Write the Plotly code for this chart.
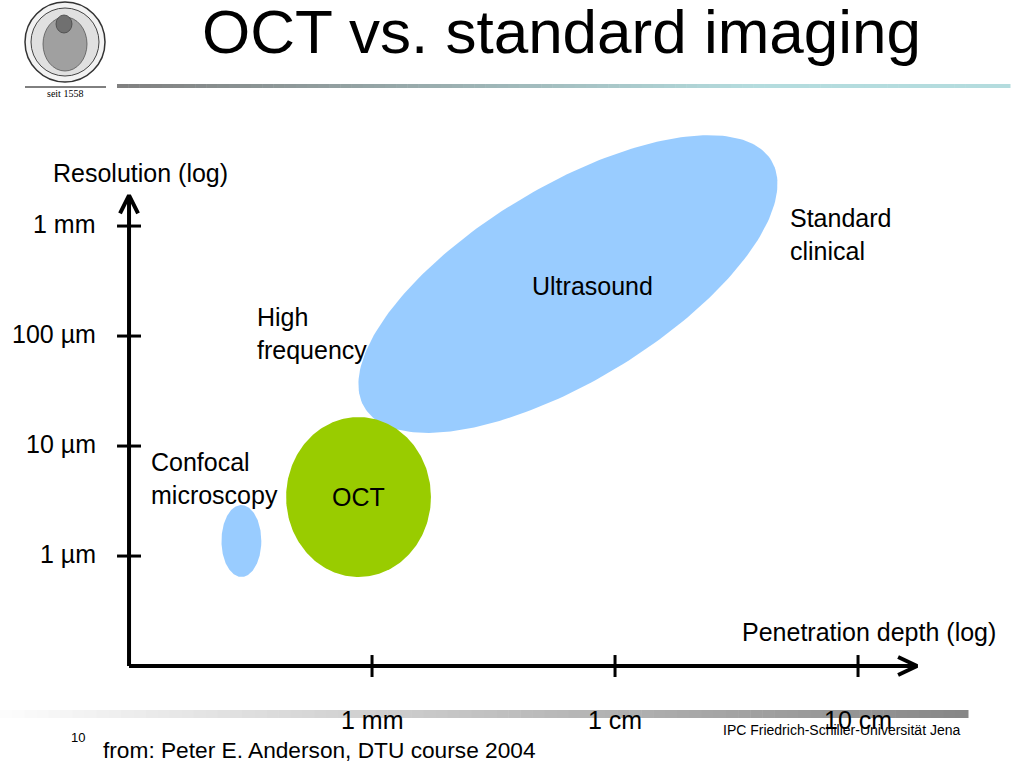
import numpy as np
import plotly.graph_objects as go

W, H = 1024, 768
FONT = "Liberation Sans"

# ---------------- data ----------------
x_tick_vals_mm = [1, 10, 100]
x_tick_text = ["1 mm", "1 cm", "10 cm"]
y_tick_vals_um = [1, 10, 100, 1000]
y_tick_text = ["1 µm", "10 µm", "100 µm", "1 mm"]

regions = ["Confocal microscopy", "Ultrasound", "OCT"]
region_depth_mm = [0.29, 6.4, 0.88]      # centre, penetration depth
region_res_um = [1.37, 297, 3.44]        # centre, resolution
# semi-axis vectors in decades: (log depth, log resolution)
region_axis1 = [(0.082, 0.0), (0.837, 1.124), (0.298, 0.0)]
region_axis2 = [(0.0, 0.327), (0.207, -0.754), (0.0, 0.727)]
region_colors = ["#99CCFF", "#99CCFF", "#99CC00"]

axis_origin_mm = 0.1
axis_origin_um = 0.1
axis_end_mm = 175
axis_end_um = 1900

# ---------------- scale ----------------
x_range = [-1.531, 2.683]   # log10(mm)
y_range = [-1.927, 5.055]   # log10(um)
dpx_x = (x_range[1] - x_range[0]) / W
dpx_y = (y_range[1] - y_range[0]) / H


def px(xp):
    return xp / W


def py(yp):
    return 1 - yp / H


fig = go.Figure()

# regions (ellipses in log space)
t = np.linspace(0, 2 * np.pi, 241)
for name, cx, cy, a1, a2, col in zip(regions, region_depth_mm, region_res_um,
                                     region_axis1, region_axis2, region_colors):
    lx = np.log10(cx) + a1[0] * np.cos(t) + a2[0] * np.sin(t)
    ly = np.log10(cy) + a1[1] * np.cos(t) + a2[1] * np.sin(t)
    fig.add_trace(go.Scatter(x=10 ** lx, y=10 ** ly, mode="lines", fill="toself",
                             fillcolor=col, line=dict(width=0, color=col),
                             name=name, hoverinfo="name", showlegend=False))

axis_style = dict(color="black", width=4)
# axes lines
fig.add_trace(go.Scatter(x=[axis_origin_mm, axis_end_mm], y=[axis_origin_um, axis_origin_um],
                         mode="lines", line=axis_style, hoverinfo="skip", showlegend=False))
fig.add_trace(go.Scatter(x=[axis_origin_mm, axis_origin_mm], y=[axis_origin_um, axis_end_um],
                         mode="lines", line=axis_style, hoverinfo="skip", showlegend=False))

# arrow heads (chevrons)
ex, ey = np.log10(axis_end_mm), np.log10(axis_origin_um)
fig.add_trace(go.Scatter(
    x=10 ** np.array([ex - 19 * dpx_x, ex, ex - 19 * dpx_x]),
    y=10 ** np.array([ey + 9 * dpx_y, ey, ey - 9 * dpx_y]),
    mode="lines", line=dict(color="black", width=4), hoverinfo="skip", showlegend=False))
ox, oy = np.log10(axis_origin_mm), np.log10(axis_end_um)
fig.add_trace(go.Scatter(
    x=10 ** np.array([ox - 9 * dpx_x, ox, ox + 9 * dpx_x]),
    y=10 ** np.array([oy - 18 * dpx_y, oy, oy - 18 * dpx_y]),
    mode="lines", line=dict(color="black", width=4), hoverinfo="skip", showlegend=False))

# ticks
for v in x_tick_vals_mm:
    fig.add_trace(go.Scatter(
        x=[v, v], y=10 ** np.array([ey - 11 * dpx_y, ey + 11 * dpx_y]),
        mode="lines", line=dict(color="black", width=3), hoverinfo="skip", showlegend=False))
for v in y_tick_vals_um:
    fig.add_trace(go.Scatter(
        x=10 ** np.array([ox - 12 * dpx_x, ox + 12 * dpx_x]), y=[v, v],
        mode="lines", line=dict(color="black", width=3), hoverinfo="skip", showlegend=False))

ann = []


def text(s, x, y, size=25, xanchor="center", yanchor="middle", align="center",
         family=FONT, color="black", xref="paper", yref="paper"):
    ann.append(dict(text=s, x=x, y=y, xref=xref, yref=yref, xanchor=xanchor,
                    yanchor=yanchor, align=align, showarrow=False, borderpad=0,
                    font=dict(family=family, size=size, color=color)))


for v, s in zip(x_tick_vals_mm, x_tick_text):
    text(s, np.log10(v), py(720), xref="x")
for v, s in zip(y_tick_vals_um, y_tick_text):
    text(s, px(97), np.log10(v) + 2 * dpx_y, xanchor="right", yref="y")

text("OCT vs. standard imaging", px(561), py(31), size=62)
text("Resolution (log)", px(140), py(173))
text("Penetration depth (log)", px(869), py(632))
text("Standard<br>clinical", px(789), py(234.5), xanchor="left", align="left")
text("Ultrasound", px(592), py(286))
text("High<br>frequency", px(256), py(333.5), xanchor="left", align="left")
text("Confocal<br>microscopy", px(150), py(478.5), xanchor="left", align="left")
text("OCT", px(358), py(497))
text("10", px(70), py(737), size=13, xanchor="left")
text("from: Peter E. Anderson, DTU course 2004", px(102), py(750), size=22.7, xanchor="left")
text("IPC Friedrich-Schiller-Universität Jena", px(962), py(730), size=14, xanchor="right")
text("seit 1558", px(65), py(93), size=10, family="Liberation Serif")

shapes = []


def mix(c1, c2, f):
    return "rgb(%d,%d,%d)" % tuple(round(a + (b - a) * f) for a, b in zip(c1, c2))


# header gradient bar
n = 80
x0, x1 = 117, 1010
for i in range(n):
    f = i / (n - 1)
    shapes.append(dict(type="rect", xref="paper", yref="paper",
                       x0=px(x0 + (x1 - x0) * i / n), x1=px(x0 + (x1 - x0) * (i + 1) / n + 0.5),
                       y0=py(88), y1=py(84), line=dict(width=0),
                       fillcolor=mix((128, 128, 128), (180, 220, 222), min(1, f * 1.4)), layer="below"))
# footer gradient bar
x0, x1 = 0, 968
for i in range(n):
    f = i / (n - 1)
    shapes.append(dict(type="rect", xref="paper", yref="paper",
                       x0=px(x0 + (x1 - x0) * i / n), x1=px(x0 + (x1 - x0) * (i + 1) / n + 0.5),
                       y0=py(718), y1=py(710), line=dict(width=0),
                       fillcolor=mix((252, 252, 252), (135, 135, 135), f), layer="below"))


# logo seal
def circ(cx, cy, rx, ry, fill, lc, lw):
    shapes.append(dict(type="circle", xref="paper", yref="paper",
                       x0=px(cx - rx), x1=px(cx + rx), y0=py(cy + ry), y1=py(cy - ry),
                       fillcolor=fill, line=dict(color=lc, width=lw)))


circ(65, 42, 40, 40, "#f2f2f2", "#333333", 1.5)
circ(65, 42, 34, 34, "#e0e0e0", "#444444", 1)
circ(65, 44, 22, 27, "#a0a0a0", "#555555", 0.8)
circ(64, 24, 8, 9, "#707070", "#444444", 0.8)
shapes.append(dict(type="line", xref="paper", yref="paper", x0=px(25), x1=px(106),
                   y0=py(87), y1=py(87), line=dict(color="black", width=1)))

fig.update_layout(
    width=W, height=H, margin=dict(l=0, r=0, t=0, b=0),
    paper_bgcolor="white", plot_bgcolor="white",
    xaxis=dict(type="log", range=x_range, visible=False, fixedrange=True),
    yaxis=dict(type="log", range=y_range, visible=False, fixedrange=True),
    annotations=ann, shapes=shapes, showlegend=False,
)

fig.write_html("out.html", config={"displayModeBar": False},
               post_script="document.body.style.margin='0';document.body.style.overflow='hidden';")
